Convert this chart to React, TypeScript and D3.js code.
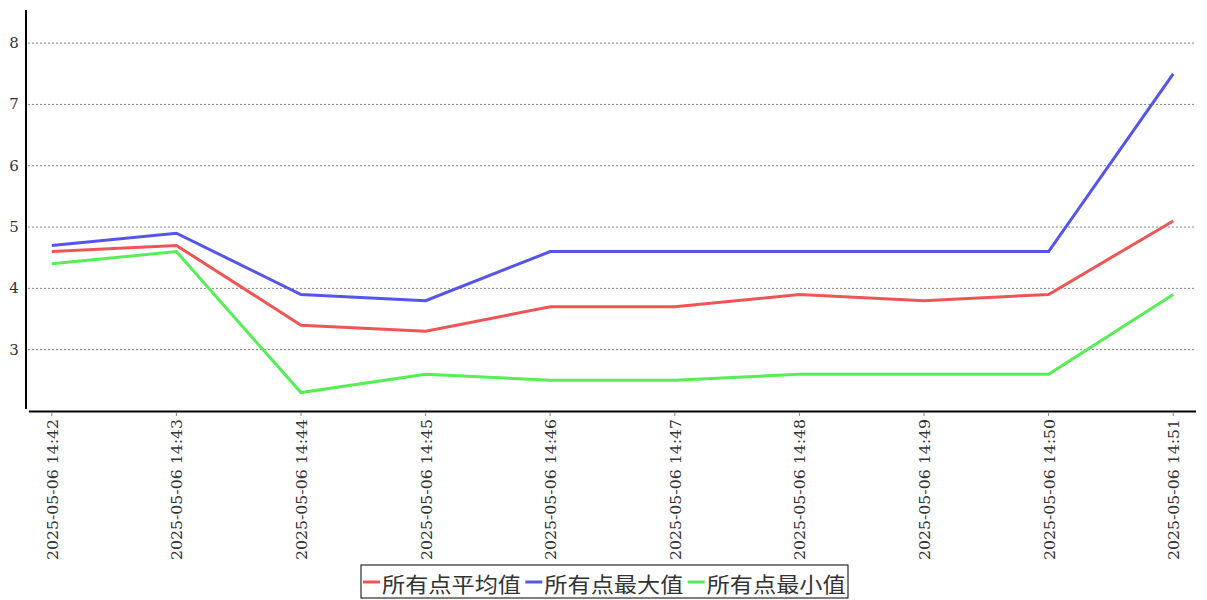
import React from "react";
import * as d3 from "d3";

const categories = [
  "2025-05-06 14:42", "2025-05-06 14:43", "2025-05-06 14:44", "2025-05-06 14:45", "2025-05-06 14:46",
  "2025-05-06 14:47", "2025-05-06 14:48", "2025-05-06 14:49", "2025-05-06 14:50", "2025-05-06 14:51",
];
const avgValues = [4.6, 4.7, 3.4, 3.3, 3.7, 3.7, 3.9, 3.8, 3.9, 5.1];
const maxValues = [4.7, 4.9, 3.9, 3.8, 4.6, 4.6, 4.6, 4.6, 4.6, 7.5];
const minValues = [4.4, 4.6, 2.3, 2.6, 2.5, 2.5, 2.6, 2.6, 2.6, 3.9];
const yTicks = [3, 4, 5, 6, 7, 8];
const seriesNames = ["所有点平均值", "所有点最大值", "所有点最小值"];

const colors = ["#f05555", "#5555ee", "#55ee55"];

export default function App() {
  const W = 1207, H = 600;
  const x = d3.scalePoint<string>().domain(categories).range([29, 1196]).padding(0.183);
  const y = d3.scaleLinear().domain([2, 8.54]).range([411, 10]);
  const series = [avgValues, maxValues, minValues];
  const line = d3.line<number>().x((_, i) => x(categories[i])!).y((d) => y(d));
  const legendX = 361, legendY = 565, legendW = 487, legendH = 33;
  const itemW = legendW / 3;
  return (
    <svg width={W} height={H} style={{ position: "absolute", left: 0, top: 0, background: "#fff" }}>
      {yTicks.map((t) => (
        <g key={t}>
          <line x1={28} x2={1196} y1={y(t)} y2={y(t)} stroke="#888" strokeWidth={1} strokeDasharray="2,2" />
          <text x={14} y={y(t)} fontFamily="'DejaVu Serif', serif" fontSize={15} fill="#333" textAnchor="middle" dominantBaseline="central">{t}</text>
        </g>
      ))}
      <line x1={26} x2={26} y1={10} y2={409} stroke="#000" strokeWidth={2} />
      <line x1={29} x2={1196} y1={411.5} y2={411.5} stroke="#000" strokeWidth={2} />
      {categories.map((c) => (
        <g key={c}>
          <line x1={x(c)} x2={x(c)} y1={412} y2={416} stroke="#888" />
          <text
            transform={`translate(${x(c)! + 1},${419}) rotate(-90)`}
            textAnchor="end"
            dominantBaseline="central"
            fontFamily="'DejaVu Serif', serif"
            fontSize={14}
            fill="#333"
            textLength={141}
            lengthAdjust="spacingAndGlyphs"
          >{c}</text>
        </g>
      ))}
      {series.map((s, i) => (
        <path key={i} d={line(s)!} fill="none" stroke={colors[i]} strokeWidth={3} />
      ))}
      <rect x={legendX} y={legendY} width={legendW} height={legendH} fill="#fff" stroke="#000" strokeWidth={1} />
      {seriesNames.map((n, i) => (
        <g key={n}>
          <line x1={legendX + 2 + i * itemW} x2={legendX + 19 + i * itemW} y1={legendY + 17} y2={legendY + 17} stroke={colors[i]} strokeWidth={3} />
          <text x={legendX + 21 + i * itemW} y={legendY + 18} fontFamily="'Noto Sans CJK SC', sans-serif" fontSize={21} fill="#333" dominantBaseline="central" textLength={139} lengthAdjust="spacingAndGlyphs">{n}</text>
        </g>
      ))}
    </svg>
  );
}
